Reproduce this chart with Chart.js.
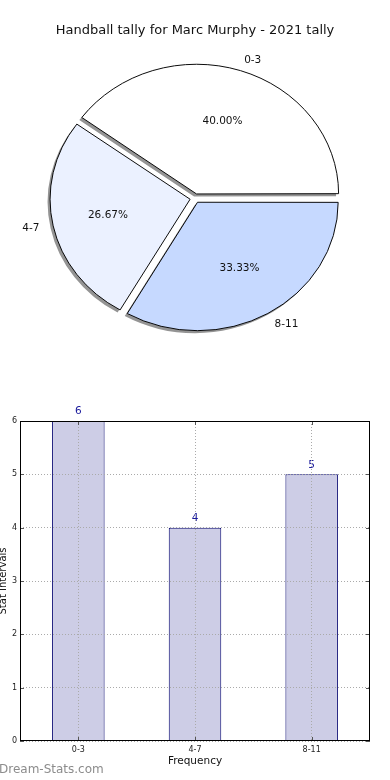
<!DOCTYPE html>
<html>
<head>
<meta charset="utf-8">
<script src="https://cdn.jsdelivr.net/npm/chart.js@4.4.1/dist/chart.umd.min.js"></script>
<style>
html, body { margin: 0; padding: 0; background: #fff; }
body { width: 390px; height: 780px; position: relative; overflow: hidden; font-family: "DejaVu Sans", sans-serif; }
#pie-wrap { position: absolute; left: 0; top: 0; width: 390px; height: 370px; }
#bar-wrap { position: absolute; left: 0; top: 401px; width: 390px; height: 379px; }
.watermark { position: absolute; left: -1px; top: 762px; font-size: 12px; color: #8c8c8c; }
</style>
</head>
<body>
<div id="pie-wrap"><canvas id="chart-pie" width="390" height="370"></canvas></div>
<div id="bar-wrap"><canvas id="chart-bar" width="390" height="379"></canvas></div>
<div class="watermark">Dream-Stats.com</div>
<script>
"use strict";

const TITLE = "Handball tally for Marc Murphy - 2021 tally";
const CATEGORIES = ["0-3", "4-7", "8-11"];
const TALLY = [6, 4, 5];
const SLICE_COLORS = ["#ffffff", "#ebf1ff", "#c6d9ff"];
const Y_MIN = 0;
const Y_MAX = 6;
const Y_STEP = 1;
const X_TITLE = "Frequency";
const Y_TITLE = "Stat Intervals";

const FONT = "'DejaVu Sans', sans-serif";
// matplotlib draws the pie counter-clockwise from 3 o'clock, Chart.js goes clockwise
const PIE_ORDER = [2, 1, 0];
const PIE_KY = 0.913; // the reference pie is squashed vertically

const piePlugin = {
  id: "pieExtras",
  beforeDatasetsDraw(chart) {
    const ctx = chart.ctx;
    const arcs = chart.getDatasetMeta(0).data;
    const cx = arcs[0].x;
    const cy = arcs[0].y;
    ctx.save();
    ctx.translate(cx, cy);
    ctx.scale(1, PIE_KY);
    ctx.translate(-cx, -cy);
    // shadows go under every wedge
    ctx.save();
    ctx.translate(-2.5, 2.8);
    for (const arc of arcs) {
      const orig = arc.options;
      arc.options = Object.assign({}, orig, { backgroundColor: "rgba(60,60,60,0.55)", borderWidth: 0 });
      arc.draw(ctx);
      arc.options = orig;
    }
    ctx.restore();
  },
  afterDatasetsDraw(chart) {
    chart.ctx.restore();
  },
  afterDraw(chart) {
    const ctx = chart.ctx;
    const meta = chart.getDatasetMeta(0);
    const total = TALLY.reduce((a, b) => a + b, 0);
    ctx.save();
    ctx.font = `10.5px ${FONT}`;
    ctx.fillStyle = "#111";
    ctx.textBaseline = "middle";
    meta.data.forEach((arc, i) => {
      const k = PIE_ORDER[i];
      const mid = (arc.startAngle + arc.endAngle) / 2;
      const cos = Math.cos(mid);
      const sin = Math.sin(mid);
      const off = (arc.options.offset || 0) / 4;
      const bx = arc.x + cos * off;
      const by = arc.y + sin * off * PIE_KY;
      const r = arc.outerRadius;
      const pct = ((TALLY[k] / total) * 100).toFixed(2) + "%";
      ctx.textAlign = "center";
      ctx.fillText(pct, bx + cos * r * 0.6, by + sin * r * 0.6 * PIE_KY);
      ctx.textAlign = cos >= 0 ? "left" : "right";
      ctx.fillText(CATEGORIES[k], bx + cos * r * 1.1, by + sin * r * 1.1 * PIE_KY);
    });
    ctx.restore();
  },
};

const barPlugin = {
  id: "barExtras",
  afterDatasetsDraw(chart) {
    const ctx = chart.ctx;
    const meta = chart.getDatasetMeta(0);
    ctx.save();
    ctx.font = `10.5px ${FONT}`;
    ctx.fillStyle = "#1a1a9c";
    ctx.textAlign = "center";
    ctx.textBaseline = "bottom";
    meta.data.forEach((bar, i) => {
      ctx.fillText(String(TALLY[i]), bar.x, bar.y - 4);
    });
    ctx.restore();
  },
  afterDraw(chart) {
    const ctx = chart.ctx;
    const { left, right, top, bottom } = chart.chartArea;
    const xs = chart.scales.x;
    const ys = chart.scales.y;
    ctx.save();
    ctx.strokeStyle = "#555";
    ctx.lineWidth = 1;
    ctx.beginPath();
    for (let v = Y_MIN; v <= Y_MAX; v += Y_STEP) {
      const y = Math.round(ys.getPixelForValue(v)) + 0.5;
      ctx.moveTo(left, y); ctx.lineTo(left + 4, y);
      ctx.moveTo(right, y); ctx.lineTo(right - 4, y);
    }
    CATEGORIES.forEach((c, i) => {
      const x = Math.round(xs.getPixelForValue(i)) + 0.5;
      ctx.moveTo(x, bottom); ctx.lineTo(x, bottom - 4);
      ctx.moveTo(x, top); ctx.lineTo(x, top + 4);
    });
    ctx.stroke();
    ctx.strokeStyle = "#000";
    ctx.strokeRect(Math.round(left) + 0.5, Math.round(top) + 0.5,
      Math.round(right - left) - 1, Math.round(bottom - top) - 1);
    ctx.restore();
  },
};

function renderPie() {
  new Chart(document.getElementById("chart-pie"), {
    type: "pie",
    data: {
      labels: PIE_ORDER.map((k) => CATEGORIES[k]),
      datasets: [{
        data: PIE_ORDER.map((k) => TALLY[k]),
        backgroundColor: PIE_ORDER.map((k) => SLICE_COLORS[k]),
        borderColor: "#000",
        borderWidth: 1,
        offset: [20, 20, 20],
        hoverOffset: 0,
      }],
    },
    options: {
      responsive: false,
      animation: false,
      devicePixelRatio: 1,
      rotation: 90,
      radius: 140,
      layout: { padding: { top: 0, left: 0, right: 0, bottom: 21 } },
      plugins: {
        legend: { display: false },
        tooltip: { enabled: false },
        title: {
          display: true,
          text: TITLE,
          color: "#111",
          font: { family: FONT, size: 13, weight: "normal" },
          padding: { top: 23, bottom: 9 },
        },
      },
    },
    plugins: [piePlugin],
  });
}

function renderBar() {
  const gridStyle = { color: "#aaaaaa", lineWidth: 1, drawTicks: false, z: 1 };
  new Chart(document.getElementById("chart-bar"), {
    type: "bar",
    data: {
      labels: CATEGORIES,
      datasets: [{
        data: TALLY,
        backgroundColor: "#cdcde6",
        borderColor: "#00006e",
        borderWidth: 1,
        barPercentage: 0.45,
        categoryPercentage: 1,
      }],
    },
    options: {
      responsive: false,
      animation: false,
      devicePixelRatio: 1,
      layout: { padding: { top: 20, right: 20, left: 0, bottom: 0 } },
      plugins: {
        legend: { display: false },
        tooltip: { enabled: false },
      },
      scales: {
        x: {
          offset: true,
          grid: { ...gridStyle, offset: false },
          border: { display: false, dash: [1, 2] },
          ticks: { color: "#222", font: { family: FONT, size: 8 }, padding: 4, autoSkip: false, maxRotation: 0 },
          title: { display: true, text: X_TITLE, color: "#111", font: { family: FONT, size: 10.5 }, padding: { top: 0, bottom: 12.7 } },
          afterFit(scale) { scale.height = 39; },
        },
        y: {
          min: Y_MIN,
          max: Y_MAX,
          grid: gridStyle,
          border: { display: false, dash: [1, 2] },
          ticks: { stepSize: Y_STEP, color: "#222", font: { family: FONT, size: 8 }, padding: 3 },
          title: { display: true, text: Y_TITLE, color: "#111", font: { family: FONT, size: 10 }, padding: { top: -3, bottom: 0 } },
          afterFit(scale) { scale.width = 20; },
        },
      },
    },
    plugins: [barPlugin],
  });
}

document.addEventListener("DOMContentLoaded", () => {
  renderPie();
  renderBar();
});
</script>
</body>
</html>
